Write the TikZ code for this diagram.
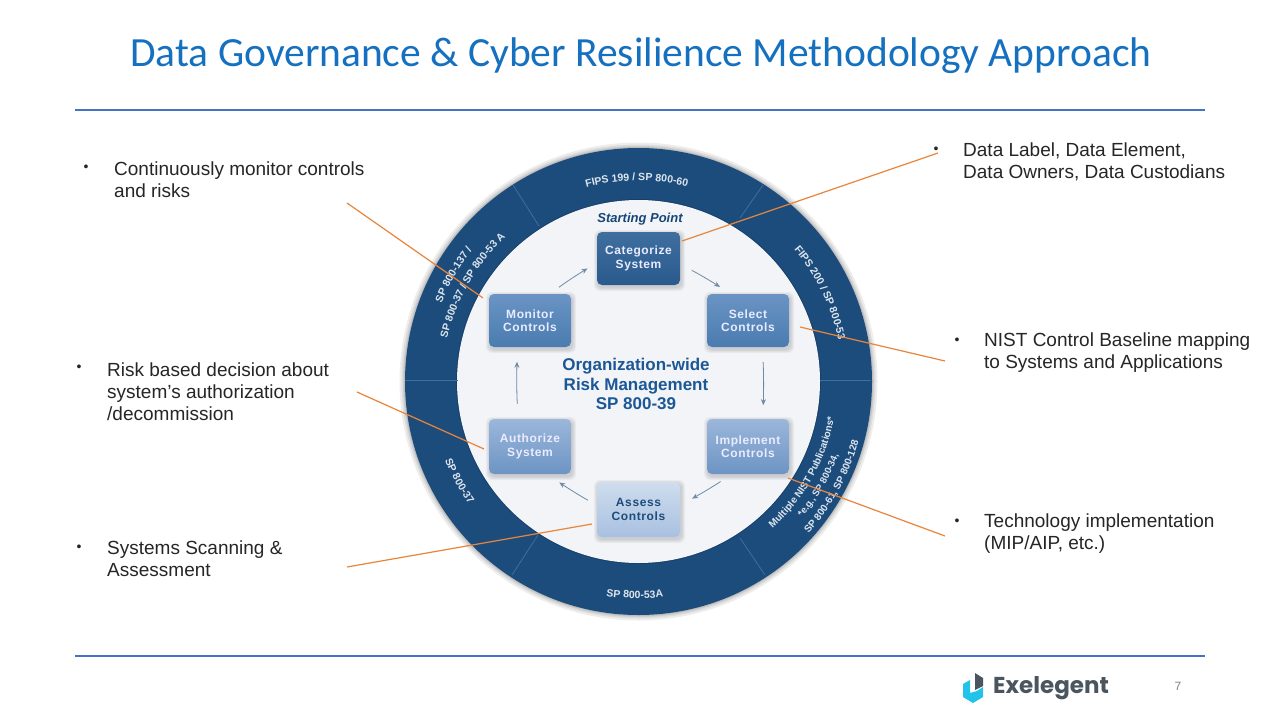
\documentclass[tikz,border=0pt]{standalone}
\usepackage{fontspec}
\setmainfont{Liberation Sans}
\newfontfamily\titlef{Carlito}
\newfontfamily\logof{Poppins}
\newfontfamily\boxf[LetterSpace=5]{Liberation Sans}
\usetikzlibrary{arrows.meta,decorations.text,bending}
\definecolor{ringblue}{HTML}{1C4C7C}
\definecolor{ringline}{HTML}{3F6F9F}
\definecolor{ruleblue}{HTML}{4472C4}
\definecolor{titleblue}{HTML}{1570C0}
\definecolor{orangeline}{HTML}{E8853A}
\definecolor{midblue}{HTML}{1C5796}
\definecolor{flowgrey}{HTML}{6F8AA5}
\definecolor{ringtext}{HTML}{DDE5EE}
\definecolor{discfill}{HTML}{F2F4F7}
\definecolor{darkTop}{HTML}{3F6F9F}
\definecolor{darkBot}{HTML}{2A5A8C}
\definecolor{midTop}{HTML}{6A94C4}
\definecolor{midBot}{HTML}{4A7CB0}
\definecolor{lightTop}{HTML}{9BB7DA}
\definecolor{lightBot}{HTML}{6D94C4}
\definecolor{paleTop}{HTML}{CFDDEE}
\definecolor{paleBot}{HTML}{A8C0E0}
\definecolor{logocyan}{HTML}{22C3E8}
\definecolor{logodark}{HTML}{4A5560}
\tikzset{
  x=1pt,y=-1pt,
  rulebar/.style={draw=ruleblue,line width=2.5pt},
  body/.style={font=\fontsize{19}{22}\selectfont,anchor=west,align=left,inner sep=0pt,text=black!85},
  bulletmark/.style={font=\fontsize{14}{14}\selectfont,inner sep=0pt,text=black!85},
  callout/.style={draw=orangeline,line width=1.2pt},
  stepbox/.style={minimum width=82pt,rounded corners=5pt,inner sep=0pt,align=center,
     font=\boxf\bfseries\fontsize{12}{13.5}\selectfont,text=white!92!blue},
  flow/.style={draw=flowgrey,line width=0.8pt,-{Stealth[length=6pt,width=5pt]}},
  divider/.style={draw=ringline,line width=0.8pt},
  ringlabel/.style n args={2}{postaction={decorate,decoration={text along path,text align=center,
     text={|\bfseries\fontsize{#1}{#1}\selectfont\color{ringtext}|#2}}}},
}
\newcommand{\softshadow}[4]{%
  \foreach \g in {4,3,2,1}{
    \fill[black,opacity=0.04,rounded corners=6pt] (#1-\g+1,#2-\g+2) rectangle (#3+\g+1,#4+\g+2);
  }
}
\begin{document}
\begin{tikzpicture}
\useasboundingbox (0,0) rectangle (1280,720);
\fill[white] (0,0) rectangle (1280,720);

% title and rules
\node[font=\titlef\fontsize{41.5}{41.5}\selectfont,text=titleblue,inner sep=0pt] (title) at (641,56) {Data Governance \& Cyber Resilience Methodology Approach};
\coordinate (rtl) at (75,110); \coordinate (rtr) at (1205,110);
\coordinate (rbl) at (75,656); \coordinate (rbr) at (1205,656);
\draw[rulebar] (rtl) -- (rtr);
\draw[rulebar] (rbl) -- (rbr);

% ring
\coordinate (c) at (638.5,381.5);
\foreach \r in {239,237,235.5,234.5}{\fill[black,opacity=0.07] (c) circle[radius=\r];}
\fill[ringblue] (c) circle[radius=233.5];
\fill[black,opacity=0.15] (c) circle[radius=182.5];
\fill[discfill] (c) circle[radius=181.5];

% ring dividers
\draw[divider] (405,380) -- (458,380);
\draw[divider] (820,380) -- (871,380);
\draw[divider] (513,185) -- (539,226);
\draw[divider] (763,185) -- (740,218);
\draw[divider] (512,575) -- (538,535);
\draw[divider] (765,575) -- (740,538);

% ring text
\path[ringlabel={10.5}{FIPS 199 / SP 800-60}] (c) ++(-125.5:201) arc[start angle=-125.5,end angle=-55.5,radius=201];
\path[ringlabel={10.5}{FIPS 200 / SP 800-53}] (c) ++(-56:204) arc[start angle=-56,end angle=4,radius=204];
\path[ringlabel={10.5}{SP 800-53A}] (c) ++(120:217) arc[start angle=120,end angle=62,radius=217];
\path[ringlabel={10.5}{SP 800-37}] (c) ++(175:209) arc[start angle=175,end angle=127,radius=209];
\path[ringlabel={10.5}{SP 800-137 /}] (c) ++(-185:212) arc[start angle=-185,end angle=-115,radius=212];
\path[ringlabel={10.5}{SP 800-37 / SP 800-53 A}] (c) ++(-190:196) arc[start angle=-190,end angle=-110,radius=196];
\path[ringlabel={10}{Multiple NIST Publications*}] (c) ++(62:199) arc[start angle=62,end angle=-4,radius=199];
\path[ringlabel={9.5}{*e.g., SP 800-34,}] (c) ++(60:213) arc[start angle=60,end angle=0,radius=213];
\path[ringlabel={10}{SP 800-61, SP 800-128}] (c) ++(60:228) arc[start angle=60,end angle=-3,radius=228];

% centre text
\node[font=\fontsize{13}{13}\selectfont\bfseries\itshape,text=midblue!80!black,inner sep=0pt] (start) at (640,219) {Starting Point};
\node[font=\bfseries\fontsize{17}{19.5}\selectfont,text=midblue,align=center,inner sep=0pt] (org) at (636,384) {Organization-wide\\Risk Management\\SP 800-39};

% boxes
\softshadow{597}{232}{680}{285}
\softshadow{489}{294}{571}{347}
\softshadow{707}{294}{789}{347}
\softshadow{489}{419}{571}{474}
\softshadow{707}{419}{789}{474}
\softshadow{597}{482}{680}{537}
\node[stepbox,minimum width=83pt,minimum height=53pt,top color=darkTop,bottom color=darkBot] (cat) at (638.5,258.5) {Categorize\\System};
\node[stepbox,minimum height=53pt,top color=midTop,bottom color=midBot] (mon) at (530,320.5) {Monitor\\Controls};
\node[stepbox,minimum height=53pt,top color=midTop,bottom color=midBot] (sel) at (748,320.5) {Select\\Controls};
\node[stepbox,minimum height=55pt,top color=lightTop,bottom color=lightBot] (aut) at (530,446.5) {Authorize\\System};
\node[stepbox,minimum height=55pt,top color=lightTop,bottom color=lightBot] (imp) at (748,446.5) {Implement\\Controls};
\node[stepbox,minimum width=83pt,minimum height=55pt,top color=paleTop,bottom color=paleBot,text=ringblue] (ass) at (638.5,509.5) {Assess\\Controls};

% flow arrows
\draw[flow,shorten <=13pt,shorten >=13pt] (cat.-8) to[bend left=3] (sel.123);
\draw[flow,shorten <=15pt,shorten >=14pt] (sel.-62) to[bend left=3] (imp.62);
\draw[flow,shorten <=13pt,shorten >=14pt] (imp.-121) to[bend left=3] (ass.6);
\draw[flow,shorten <=10pt,shorten >=15pt] (ass.174) to[bend left=3] (aut.-58);
\draw[flow,shorten <=15pt,shorten >=15pt] (aut.113) to[bend left=3] (mon.-115);
\draw[flow,shorten <=11pt,shorten >=11pt] (mon.53) to[bend left=3] (cat.186);

% callout texts
\node[bulletmark] (b1) at (86,168) {•};
\node[body] (t1) at (114,180) {Continuously monitor controls\\and risks};
\node[bulletmark] (b2) at (936,150) {•};
\node[body] (t2) at (963,162) {Data Label, Data Element,\\Data Owners, Data Custodians};
\node[bulletmark] (b3) at (957,341) {•};
\node[body] (t3) at (984,353) {NIST Control Baseline mapping\\to Systems and Applications};
\node[bulletmark] (b4) at (957,522) {•};
\node[body] (t4) at (984,534) {Technology implementation\\(MIP/AIP, etc.)};
\node[bulletmark] (b5) at (79,368) {•};
\node[body] (t5) at (107,391.5) {Risk based decision about\\system's authorization\\/decommission};
\node[bulletmark] (b6) at (79,548) {•};
\node[body] (t6) at (107,559) {Systems Scanning \&\\Assessment};

% callout lines
\coordinate (l1) at (347,203); \coordinate (m1) at (483,298);
\coordinate (l5) at (357,392); \coordinate (m5) at (484,449);
\coordinate (l6) at (347,567); \coordinate (m6) at (592,524);
\coordinate (l2) at (938,153); \coordinate (m2) at (682,241);
\coordinate (l3) at (945,361); \coordinate (m3) at (800,327);
\coordinate (l4) at (945,536); \coordinate (m4) at (788,478);
\draw[callout] (l1) -- (m1);
\draw[callout] (l5) -- (m5);
\draw[callout] (l6) -- (m6);
\draw[callout] (l2) -- (m2);
\draw[callout] (l3) -- (m3);
\draw[callout] (l4) -- (m4);

% logo and page number
\fill[logocyan] (963,684) -- (970,680) -- (970,693) -- (977,691) -- (983,687) -- (983,697) -- (973,703) -- (963,697) -- cycle;
\fill[logodark] (975,673) -- (983,678) -- (983,686) -- (975,690) -- cycle;
\node[font=\logof\bfseries\fontsize{23}{23}\selectfont,text=logodark,anchor=west,inner sep=0pt] (logo) at (993,688) {Exelegent};
\node[font=\fontsize{12}{12}\selectfont,text=black!50,inner sep=0pt] (page) at (1178,686) {7};
\end{tikzpicture}
\end{document}
